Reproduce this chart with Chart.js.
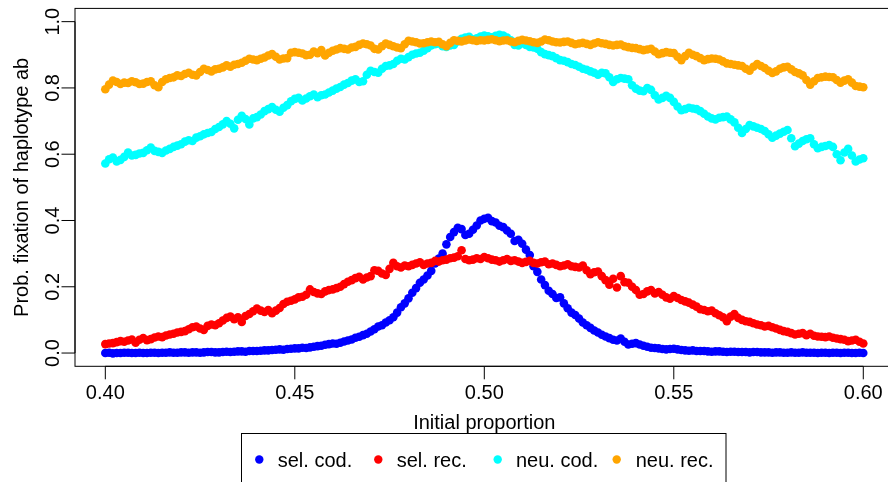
<!DOCTYPE html>
<html>
<head>
<meta charset="utf-8">
<script src="https://cdn.jsdelivr.net/npm/chart.js@4.4.0/dist/chart.umd.min.js"></script>
<style>
  html, body { margin: 0; padding: 0; background: #ffffff; overflow: hidden; }
  #wrap { width: 888px; height: 482px; overflow: hidden; position: relative; }
  canvas { display: block; }
</style>
</head>
<body>
<div id="wrap"><canvas id="plot" width="900" height="500"></canvas></div>
<script>
// initial proportion (x)
const initialProportion = [
    0.400, 0.401, 0.402, 0.403, 0.404, 0.405, 0.406, 0.407, 0.408, 0.409,
    0.410, 0.411, 0.412, 0.413, 0.414, 0.415, 0.416, 0.417, 0.418, 0.419,
    0.420, 0.421, 0.422, 0.423, 0.424, 0.425, 0.426, 0.427, 0.428, 0.429,
    0.430, 0.431, 0.432, 0.433, 0.434, 0.435, 0.436, 0.437, 0.438, 0.439,
    0.440, 0.441, 0.442, 0.443, 0.444, 0.445, 0.446, 0.447, 0.448, 0.449,
    0.450, 0.451, 0.452, 0.453, 0.454, 0.455, 0.456, 0.457, 0.458, 0.459,
    0.460, 0.461, 0.462, 0.463, 0.464, 0.465, 0.466, 0.467, 0.468, 0.469,
    0.470, 0.471, 0.472, 0.473, 0.474, 0.475, 0.476, 0.477, 0.478, 0.479,
    0.480, 0.481, 0.482, 0.483, 0.484, 0.485, 0.486, 0.487, 0.488, 0.489,
    0.490, 0.491, 0.492, 0.493, 0.494, 0.495, 0.496, 0.497, 0.498, 0.499,
    0.500, 0.501, 0.502, 0.503, 0.504, 0.505, 0.506, 0.507, 0.508, 0.509,
    0.510, 0.511, 0.512, 0.513, 0.514, 0.515, 0.516, 0.517, 0.518, 0.519,
    0.520, 0.521, 0.522, 0.523, 0.524, 0.525, 0.526, 0.527, 0.528, 0.529,
    0.530, 0.531, 0.532, 0.533, 0.534, 0.535, 0.536, 0.537, 0.538, 0.539,
    0.540, 0.541, 0.542, 0.543, 0.544, 0.545, 0.546, 0.547, 0.548, 0.549,
    0.550, 0.551, 0.552, 0.553, 0.554, 0.555, 0.556, 0.557, 0.558, 0.559,
    0.560, 0.561, 0.562, 0.563, 0.564, 0.565, 0.566, 0.567, 0.568, 0.569,
    0.570, 0.571, 0.572, 0.573, 0.574, 0.575, 0.576, 0.577, 0.578, 0.579,
    0.580, 0.581, 0.582, 0.583, 0.584, 0.585, 0.586, 0.587, 0.588, 0.589,
    0.590, 0.591, 0.592, 0.593, 0.594, 0.595, 0.596, 0.597, 0.598, 0.599,
    0.600
];

const selCod = [
    0.000, 0.001, -0.001, 0.000, 0.000, 0.001, 0.001, 0.000, 0.000, 0.001,
    0.000, 0.000, 0.001, 0.001, 0.000, 0.001, 0.001, 0.002, 0.001, 0.001,
    0.002, 0.002, 0.001, 0.002, 0.002, 0.001, 0.002, 0.003, 0.003, 0.002,
    0.002, 0.003, 0.004, 0.003, 0.004, 0.005, 0.005, 0.004, 0.006, 0.006,
    0.006, 0.007, 0.008, 0.008, 0.009, 0.010, 0.011, 0.010, 0.012, 0.013,
    0.014, 0.014, 0.016, 0.015, 0.017, 0.019, 0.021, 0.022, 0.025, 0.027,
    0.029, 0.028, 0.031, 0.035, 0.038, 0.041, 0.046, 0.049, 0.054, 0.058,
    0.065, 0.072, 0.080, 0.084, 0.092, 0.099, 0.108, 0.122, 0.138, 0.150,
    0.165, 0.182, 0.196, 0.212, 0.222, 0.234, 0.248, 0.270, 0.285, 0.300,
    0.328, 0.350, 0.365, 0.378, 0.374, 0.356, 0.360, 0.372, 0.385, 0.400,
    0.405, 0.408, 0.398, 0.394, 0.384, 0.380, 0.370, 0.360, 0.338, 0.342,
    0.330, 0.312, 0.296, 0.262, 0.245, 0.222, 0.205, 0.188, 0.178, 0.166,
    0.168, 0.150, 0.135, 0.122, 0.115, 0.104, 0.092, 0.084, 0.076, 0.068,
    0.062, 0.055, 0.050, 0.045, 0.040, 0.038, 0.044, 0.034, 0.026, 0.028,
    0.030, 0.026, 0.022, 0.019, 0.016, 0.015, 0.014, 0.012, 0.011, 0.012,
    0.013, 0.011, 0.009, 0.008, 0.007, 0.008, 0.006, 0.006, 0.006, 0.005,
    0.004, 0.005, 0.005, 0.004, 0.003, 0.004, 0.004, 0.003, 0.003, 0.003,
    0.002, 0.003, 0.003, 0.002, 0.002, 0.002, 0.001, 0.002, 0.002, 0.001,
    0.001, 0.002, 0.001, 0.001, 0.002, 0.001, 0.001, 0.001, 0.000, 0.001,
    0.001, 0.000, 0.001, 0.001, 0.000, 0.001, 0.001, 0.000, 0.000, 0.001,
    0.000
];

const selRec = [
    0.027, 0.029, 0.030, 0.033, 0.036, 0.034, 0.038, 0.041, 0.031, 0.040,
    0.045, 0.039, 0.042, 0.047, 0.050, 0.048, 0.053, 0.056, 0.058, 0.062,
    0.064, 0.066, 0.072, 0.078, 0.080, 0.074, 0.070, 0.082, 0.086, 0.084,
    0.090, 0.098, 0.106, 0.110, 0.102, 0.108, 0.094, 0.112, 0.118, 0.126,
    0.134, 0.128, 0.124, 0.130, 0.120, 0.128, 0.136, 0.148, 0.155, 0.158,
    0.162, 0.168, 0.170, 0.176, 0.192, 0.184, 0.180, 0.178, 0.186, 0.190,
    0.192, 0.196, 0.200, 0.208, 0.215, 0.220, 0.226, 0.230, 0.222, 0.228,
    0.232, 0.250, 0.248, 0.240, 0.236, 0.254, 0.272, 0.262, 0.258, 0.264,
    0.262, 0.266, 0.270, 0.274, 0.266, 0.270, 0.272, 0.278, 0.276, 0.280,
    0.282, 0.286, 0.288, 0.292, 0.310, 0.284, 0.280, 0.282, 0.286, 0.284,
    0.290, 0.286, 0.282, 0.280, 0.276, 0.280, 0.284, 0.278, 0.280, 0.276,
    0.272, 0.275, 0.278, 0.272, 0.270, 0.274, 0.276, 0.268, 0.270, 0.266,
    0.262, 0.264, 0.268, 0.262, 0.260, 0.258, 0.264, 0.250, 0.238, 0.244,
    0.246, 0.232, 0.220, 0.206, 0.224, 0.198, 0.232, 0.214, 0.212, 0.200,
    0.190, 0.176, 0.178, 0.186, 0.190, 0.180, 0.184, 0.176, 0.168, 0.164,
    0.172, 0.166, 0.160, 0.156, 0.152, 0.146, 0.140, 0.132, 0.130, 0.126,
    0.128, 0.120, 0.114, 0.108, 0.096, 0.110, 0.118, 0.106, 0.100, 0.096,
    0.094, 0.090, 0.086, 0.084, 0.080, 0.082, 0.078, 0.074, 0.070, 0.066,
    0.064, 0.060, 0.056, 0.058, 0.060, 0.054, 0.058, 0.052, 0.050, 0.049,
    0.048, 0.050, 0.046, 0.044, 0.042, 0.040, 0.036, 0.038, 0.040, 0.034,
    0.029
];

const neuCod = [
    0.572, 0.585, 0.590, 0.578, 0.583, 0.592, 0.605, 0.596, 0.598, 0.602,
    0.604, 0.612, 0.620, 0.610, 0.607, 0.604, 0.611, 0.616, 0.622, 0.626,
    0.630, 0.638, 0.642, 0.640, 0.650, 0.654, 0.660, 0.664, 0.667, 0.676,
    0.682, 0.690, 0.700, 0.692, 0.678, 0.704, 0.716, 0.706, 0.690, 0.708,
    0.712, 0.720, 0.730, 0.736, 0.742, 0.734, 0.728, 0.740, 0.748, 0.760,
    0.767, 0.770, 0.762, 0.768, 0.775, 0.780, 0.772, 0.778, 0.780, 0.786,
    0.792, 0.798, 0.803, 0.810, 0.815, 0.822, 0.826, 0.818, 0.820, 0.840,
    0.852, 0.848, 0.846, 0.858, 0.866, 0.868, 0.872, 0.882, 0.888, 0.886,
    0.893, 0.900, 0.904, 0.906, 0.912, 0.920, 0.928, 0.932, 0.934, 0.926,
    0.924, 0.928, 0.930, 0.940, 0.948, 0.952, 0.954, 0.946, 0.950, 0.955,
    0.958, 0.956, 0.953, 0.957, 0.960, 0.958, 0.952, 0.944, 0.930, 0.928,
    0.935, 0.930, 0.924, 0.922, 0.918, 0.908, 0.902, 0.899, 0.896, 0.890,
    0.884, 0.882, 0.878, 0.872, 0.869, 0.864, 0.858, 0.855, 0.850, 0.846,
    0.840, 0.846, 0.844, 0.832, 0.818, 0.826, 0.830, 0.828, 0.826, 0.808,
    0.798, 0.792, 0.790, 0.800, 0.794, 0.778, 0.765, 0.770, 0.776, 0.770,
    0.758, 0.744, 0.733, 0.736, 0.740, 0.738, 0.736, 0.730, 0.722, 0.714,
    0.708, 0.705, 0.710, 0.712, 0.714, 0.705, 0.696, 0.680, 0.664, 0.676,
    0.688, 0.684, 0.680, 0.676, 0.670, 0.660, 0.650, 0.656, 0.662, 0.668,
    0.673, 0.648, 0.624, 0.632, 0.640, 0.645, 0.648, 0.630, 0.618, 0.622,
    0.625, 0.628, 0.622, 0.600, 0.582, 0.605, 0.616, 0.596, 0.578, 0.584,
    0.588
];

const neuRec = [
    0.796, 0.810, 0.822, 0.818, 0.812, 0.816, 0.815, 0.820, 0.817, 0.812,
    0.813, 0.818, 0.820, 0.808, 0.802, 0.818, 0.826, 0.830, 0.832, 0.838,
    0.836, 0.842, 0.846, 0.840, 0.838, 0.848, 0.858, 0.854, 0.850, 0.856,
    0.858, 0.862, 0.868, 0.864, 0.870, 0.872, 0.876, 0.882, 0.888, 0.886,
    0.884, 0.888, 0.892, 0.898, 0.902, 0.894, 0.886, 0.889, 0.890, 0.906,
    0.908, 0.906, 0.904, 0.899, 0.900, 0.910, 0.905, 0.914, 0.898, 0.906,
    0.912, 0.916, 0.920, 0.918, 0.916, 0.922, 0.924, 0.930, 0.934, 0.932,
    0.928, 0.918, 0.916, 0.926, 0.934, 0.930, 0.926, 0.922, 0.920, 0.932,
    0.942, 0.940, 0.938, 0.934, 0.935, 0.938, 0.940, 0.938, 0.939, 0.932,
    0.926, 0.936, 0.944, 0.942, 0.940, 0.943, 0.946, 0.944, 0.942, 0.944,
    0.943, 0.945, 0.947, 0.944, 0.941, 0.943, 0.944, 0.940, 0.938, 0.942,
    0.945, 0.943, 0.941, 0.938, 0.936, 0.940, 0.946, 0.944, 0.940, 0.938,
    0.937, 0.939, 0.940, 0.936, 0.932, 0.934, 0.936, 0.933, 0.930, 0.934,
    0.938, 0.935, 0.933, 0.930, 0.928, 0.930, 0.931, 0.926, 0.923, 0.921,
    0.920, 0.917, 0.914, 0.916, 0.918, 0.910, 0.902, 0.905, 0.908, 0.906,
    0.905, 0.894, 0.884, 0.896, 0.906, 0.900, 0.896, 0.890, 0.884, 0.887,
    0.889, 0.888, 0.886, 0.880, 0.874, 0.872, 0.870, 0.868, 0.866, 0.858,
    0.852, 0.864, 0.872, 0.866, 0.860, 0.852, 0.845, 0.850, 0.858, 0.862,
    0.864, 0.856, 0.848, 0.844, 0.838, 0.824, 0.810, 0.820, 0.830, 0.832,
    0.834, 0.833, 0.832, 0.824, 0.816, 0.822, 0.826, 0.816, 0.806, 0.804,
    0.802
];

const seriesLabels = ['sel. cod.', 'sel. rec.', 'neu. cod.', 'neu. rec.'];
const seriesColors = ['#0000ff', '#ff0000', '#00ffff', '#ffa500'];

const xTicks = [0.40, 0.45, 0.50, 0.55, 0.60];
const xTickLabels = ['0.40', '0.45', '0.50', '0.55', '0.60'];
const yTicks = [0.0, 0.2, 0.4, 0.6, 0.8, 1.0];
const yTickLabels = ['0.0', '0.2', '0.4', '0.6', '0.8', '1.0'];

const xTitle = 'Initial proportion';
const yTitle = 'Prob. fixation of haplotype ab';

const FONT = '20px "Liberation Sans", Arial, Helvetica, sans-serif';

function toPoints(ys) {
    return ys.map((y, i) => ({ x: initialProportion[i], y: y }));
}

const allSeries = [selCod, selRec, neuCod, neuRec];

// draw box, axes, titles and legend the way base R does
const rAxes = {
    id: 'rAxes',
    afterDraw(chart) {
        const c = chart.ctx;
        const area = chart.chartArea;
        const xs = chart.scales.x;
        const ys = chart.scales.y;
        c.save();
        c.strokeStyle = '#000000';
        c.fillStyle = '#000000';
        c.lineWidth = 1;
        c.font = FONT;

        // box
        c.strokeRect(area.left, area.top, area.right - area.left, area.bottom - area.top);

        // x axis
        const x0 = xs.getPixelForValue(xTicks[0]);
        const x1 = xs.getPixelForValue(xTicks[xTicks.length - 1]);
        c.beginPath();
        c.moveTo(x0, area.bottom);
        c.lineTo(x1, area.bottom);
        xTicks.forEach(v => {
            const px = xs.getPixelForValue(v);
            c.moveTo(px, area.bottom);
            c.lineTo(px, area.bottom + 13);
        });
        c.stroke();
        c.textAlign = 'center';
        c.textBaseline = 'alphabetic';
        xTicks.forEach((v, i) => {
            c.fillText(xTickLabels[i], xs.getPixelForValue(v), 398.5);
        });

        // y axis
        const y0 = ys.getPixelForValue(yTicks[0]);
        const y1 = ys.getPixelForValue(yTicks[yTicks.length - 1]);
        c.beginPath();
        c.moveTo(area.left, y0);
        c.lineTo(area.left, y1);
        yTicks.forEach(v => {
            const py = ys.getPixelForValue(v);
            c.moveTo(area.left, py);
            c.lineTo(area.left - 13.5, py);
        });
        c.stroke();
        yTicks.forEach((v, i) => {
            c.save();
            c.translate(59, ys.getPixelForValue(v));
            c.rotate(-Math.PI / 2);
            c.fillText(yTickLabels[i], 0, 0);
            c.restore();
        });

        // axis titles
        c.fillText(xTitle, (area.left + area.right) / 2, 429);
        c.save();
        c.translate(28, (area.top + area.bottom) / 2);
        c.rotate(-Math.PI / 2);
        c.fillText(yTitle, 0, 0);
        c.restore();

        // legend (horizontal, boxed, below plot)
        c.strokeRect(241.5, 433.5, 484.5, 53);
        const dotX = [259.3, 378.3, 497.7, 616.7];
        const textX = [277.7, 396.7, 516, 635.7];
        c.textAlign = 'left';
        seriesLabels.forEach((lab, i) => {
            c.beginPath();
            c.fillStyle = seriesColors[i];
            c.arc(dotX[i], 459.5, 4.2, 0, Math.PI * 2);
            c.fill();
            c.fillStyle = '#000000';
            c.fillText(lab, textX[i], 466.7);
        });
        c.restore();
    }
};

const ctx = document.getElementById('plot').getContext('2d');

const chart = new Chart(ctx, {
    type: 'scatter',
    data: {
        datasets: allSeries.map((ys, i) => ({
            label: seriesLabels[i],
            data: toPoints(ys),
            pointRadius: 4.3,
            pointHoverRadius: 4.3,
            pointBorderWidth: 0,
            pointBackgroundColor: seriesColors[i],
            pointBorderColor: seriesColors[i],
            backgroundColor: seriesColors[i],
            order: 4 - i
        }))
    },
    options: {
        responsive: false,
        animation: false,
        events: [],
        layout: {
            padding: { left: 75, right: 6.4, top: 8.4, bottom: 133.7 }
        },
        scales: {
            x: { type: 'linear', display: false, min: 0.392, max: 0.608 },
            y: { type: 'linear', display: false, min: -0.04, max: 1.04 }
        },
        plugins: {
            legend: { display: false },
            tooltip: { enabled: false }
        }
    },
    plugins: [rAxes]
});
</script>
</body>
</html>
